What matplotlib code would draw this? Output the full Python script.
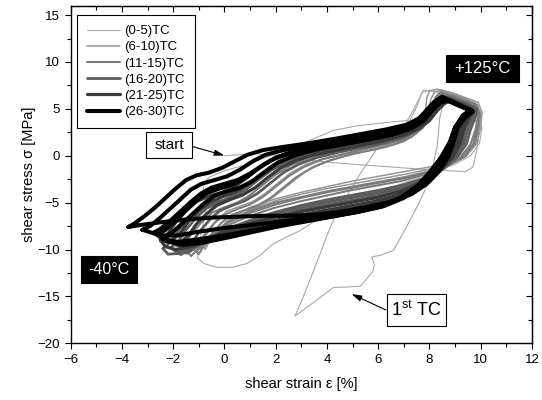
import matplotlib
matplotlib.use('Agg')
import matplotlib.pyplot as plt
from matplotlib.patches import Rectangle
from matplotlib.ticker import MultipleLocator

plt.rcParams['font.family'] = ['Liberation Sans', 'DejaVu Sans']
plt.rcParams['mathtext.fontset'] = 'custom'
plt.rcParams['mathtext.rm'] = 'Liberation Sans'

# strain [%], stress [MPa] pairs for each thermal cycle, -40C <-> +125C

# 1st cycle: from the unloaded start point
first_tc = [(0.0, 0.0), (0.6, 0.1), (1.2, 0.2), (2.0, 0.1), (3.0, -0.4), (4.5, -0.8), (6.0, -1.1),
            (7.5, -1.4), (8.8, -1.6), (9.4, -1.7), (9.7, -1.2), (9.8, 0.0), (9.9, 1.5), (9.9, 3.0),
            (9.7, 4.5), (9.2, 5.5), (8.6, 6.3), (8.4, 4.0), (8.3, 1.0), (8.1, -1.5), (8.0, -2.6),
            (7.6, -5.0), (7.1, -7.6), (6.6, -10.1), (6.1, -10.6), (5.75, -10.8), (5.85, -11.6),
            (5.8, -12.3), (5.5, -13.3), (5.3, -13.9), (4.8, -14.0), (4.25, -14.05), (3.5, -15.6),
            (2.75, -17.1), (3.07, -15.1), (3.4, -12.8), (3.73, -10.5), (4.0, -8.5), (4.31, -6.5),
            (4.8, -4.2), (5.3, -1.9), (5.7, -0.3), (6.07, 1.3), (6.5, 2.3), (7.0, 3.1), (7.4, 5.0),
            (7.76, 7.0), (8.1, 6.9)]

second_tc = [(8.1, 6.9), (8.8, 6.5), (9.5, 5.7), (9.9, 4.6), (10.05, 3.0), (9.95, 1.3), (9.6, 0.0),
             (9.0, -0.9), (8.2, -1.7), (7.3, -2.6), (6.3, -3.6), (5.3, -4.6), (4.3, -5.8), (3.5, -7.0),
             (2.95, -8.0), (2.4, -8.7), (1.9, -9.4), (1.4, -10.6), (0.87, -11.5), (0.3, -11.9),
             (-0.3, -11.9), (-0.8, -11.5), (-1.05, -10.9), (-1.0, -9.5), (-0.85, -7.5), (-0.7, -5.5),
             (-0.75, -4.2), (-0.85, -3.0), (-0.6, -2.3), (0.0, -1.6), (0.8, -1.0), (1.6, -0.2),
             (2.4, 0.6), (3.3, 1.6), (4.25, 2.7), (5.2, 3.2), (6.2, 3.5), (7.24, 3.8), (7.5, 5.2),
             (7.7, 6.7), (8.0, 7.0)]

cycle_6_10_a = [(-1.2, -10.0), (-0.9, -9.2), (-0.6, -8.0), (-0.3, -6.8), (0.1, -5.9), (0.6, -5.4),
                (1.1, -4.9), (1.6, -4.0), (2.1, -2.9), (2.6, -1.8), (3.2, -0.9), (4.0, -0.2), (5.0, 0.4),
                (6.0, 1.0), (6.8, 1.6), (7.4, 2.4), (7.8, 3.5), (7.95, 4.8), (8.05, 6.0), (8.2, 6.8),
                (8.5, 7.0), (9.0, 6.5), (9.8, 5.6), (10.0, 4.6), (9.95, 3.0), (9.8, 1.3), (9.4, -0.1),
                (8.7, -0.9), (7.9, -1.5), (7.0, -2.0), (6.0, -2.5), (5.0, -3.0), (4.0, -3.5), (3.0, -4.1),
                (2.0, -4.8), (1.0, -5.8), (0.2, -6.9), (-0.4, -8.2), (-0.9, -9.5), (-1.1, -10.3), (-1.2, -10.0)]

cycle_6_10_b = [(-0.8, -9.7), (-0.5, -9.0), (-0.2, -7.8), (0.2, -6.7), (0.6, -6.0), (1.1, -5.6),
                (1.6, -5.0), (2.1, -4.0), (2.6, -2.9), (3.1, -1.8), (3.7, -0.9), (4.5, -0.2), (5.4, 0.4),
                (6.3, 0.9), (7.0, 1.5), (7.5, 2.4), (7.75, 3.6), (7.85, 5.0), (7.9, 6.2), (8.0, 6.9),
                (8.3, 7.1), (8.9, 6.7), (9.9, 5.7), (10.05, 4.6), (10.0, 3.0), (9.85, 1.3), (9.45, 0.0),
                (8.8, -0.7), (8.0, -1.2), (7.0, -1.7), (6.0, -2.2), (5.0, -2.7), (4.0, -3.3), (3.0, -3.9),
                (2.0, -4.6), (1.0, -5.5), (0.3, -6.6), (-0.2, -7.9), (-0.6, -9.2), (-0.75, -10.0), (-0.8, -9.7)]

cycle_11_15_a = [(-1.9, -10.3), (-1.6, -9.6), (-1.3, -8.4), (-0.9, -7.1), (-0.5, -6.1), (0.0, -5.5),
                 (0.5, -5.0), (1.0, -4.2), (1.5, -3.1), (2.0, -2.0), (2.6, -1.0), (3.3, -0.2), (4.2, 0.4),
                 (5.1, 0.9), (6.0, 1.4), (6.8, 1.9), (7.4, 2.6), (7.85, 3.6), (8.1, 4.8), (8.3, 5.9),
                 (8.5, 6.5), (9.1, 6.0), (9.8, 5.2), (9.9, 4.3), (9.8, 2.8), (9.6, 1.2), (9.2, -0.2),
                 (8.6, -1.2), (7.8, -2.0), (6.9, -2.7), (5.9, -3.2), (4.9, -3.7), (3.9, -4.3), (2.9, -4.9),
                 (1.9, -5.6), (0.9, -6.5), (0.0, -7.6), (-0.7, -8.8), (-1.3, -9.9), (-1.7, -10.6), (-1.9, -10.3)]

cycle_11_15_b = [(-1.4, -10.4), (-1.1, -9.7), (-0.8, -8.5), (-0.4, -7.2), (0.0, -6.3), (0.5, -5.7),
                 (1.0, -5.2), (1.5, -4.4), (2.0, -3.3), (2.5, -2.2), (3.1, -1.2), (3.8, -0.4), (4.7, 0.2),
                 (5.6, 0.8), (6.4, 1.3), (7.1, 1.9), (7.6, 2.8), (8.0, 3.9), (8.2, 5.1), (8.3, 6.1),
                 (8.5, 6.7), (9.1, 6.2), (9.85, 5.3), (9.95, 4.3), (9.85, 2.8), (9.7, 1.2), (9.3, -0.2),
                 (8.7, -1.1), (7.9, -1.8), (7.0, -2.4), (6.0, -2.9), (5.0, -3.4), (4.0, -3.9), (3.0, -4.5),
                 (2.0, -5.2), (1.0, -6.1), (0.1, -7.2), (-0.5, -8.5), (-1.0, -9.8), (-1.3, -10.7), (-1.4, -10.4)]

cycle_11_15_c = [(-1.1, -10.2), (-0.8, -9.5), (-0.5, -8.3), (-0.1, -7.1), (0.3, -6.3), (0.8, -5.8),
                 (1.3, -5.3), (1.8, -4.5), (2.3, -3.4), (2.8, -2.3), (3.4, -1.3), (4.1, -0.5), (5.0, 0.2),
                 (5.9, 0.7), (6.7, 1.3), (7.3, 2.0), (7.75, 3.0), (8.0, 4.2), (8.15, 5.4), (8.25, 6.3),
                 (8.45, 6.8), (9.05, 6.3), (9.85, 5.4), (9.95, 4.4), (9.9, 2.9), (9.75, 1.3), (9.35, -0.1),
                 (8.75, -1.0), (7.95, -1.7), (7.0, -2.3), (6.0, -2.8), (5.0, -3.3), (4.0, -3.8), (3.0, -4.4),
                 (2.0, -5.0), (1.0, -5.9), (0.2, -7.0), (-0.4, -8.3), (-0.8, -9.6), (-1.0, -10.5), (-1.1, -10.2)]

cycle_16_20_a = [(-2.1, -9.8), (-1.8, -9.1), (-1.5, -7.9), (-1.1, -6.6), (-0.7, -5.6), (-0.2, -5.0),
                 (0.3, -4.5), (0.8, -3.7), (1.3, -2.6), (1.8, -1.6), (2.4, -0.7), (3.1, 0.0), (4.0, 0.6),
                 (4.9, 1.1), (5.8, 1.6), (6.6, 2.1), (7.3, 2.7), (7.8, 3.6), (8.2, 4.7), (8.5, 5.7),
                 (8.8, 6.2), (9.3, 5.6), (9.8, 5.0), (9.7, 4.2), (9.5, 2.9), (9.35, 1.4), (9.05, -0.1),
                 (8.5, -1.4), (7.8, -2.5), (6.9, -3.4), (5.9, -4.0), (4.9, -4.5), (3.9, -5.0), (2.9, -5.6),
                 (1.9, -6.3), (0.9, -7.1), (-0.1, -8.1), (-0.9, -9.2), (-1.5, -10.0), (-1.9, -10.2), (-2.1, -9.8)]

cycle_16_20_b = [(-1.6, -10.1), (-1.3, -9.4), (-1.0, -8.2), (-0.6, -6.9), (-0.2, -5.9), (0.3, -5.3),
                 (0.8, -4.8), (1.3, -4.0), (1.8, -2.9), (2.3, -1.8), (2.9, -0.9), (3.6, -0.2), (4.5, 0.4),
                 (5.4, 0.9), (6.3, 1.4), (7.0, 2.0), (7.5, 2.7), (8.0, 3.7), (8.3, 4.8), (8.6, 5.7),
                 (8.9, 6.1), (9.4, 5.6), (9.85, 5.0), (9.8, 4.2), (9.6, 2.8), (9.45, 1.3), (9.1, -0.1),
                 (8.6, -1.3), (7.9, -2.3), (7.0, -3.1), (6.0, -3.7), (5.0, -4.2), (4.0, -4.7), (3.0, -5.3),
                 (2.0, -6.0), (1.0, -6.9), (0.0, -7.9), (-0.7, -9.0), (-1.2, -9.9), (-1.5, -10.4), (-1.6, -10.1)]

cycle_16_20_c = [(-2.4, -9.9), (-2.1, -9.2), (-1.8, -8.0), (-1.4, -6.7), (-1.0, -5.7), (-0.5, -5.1),
                 (0.0, -4.7), (0.5, -4.0), (1.0, -2.9), (1.6, -1.8), (2.2, -0.9), (2.9, -0.2), (3.8, 0.4),
                 (4.7, 0.9), (5.6, 1.4), (6.5, 1.9), (7.2, 2.5), (7.8, 3.4), (8.1, 4.6), (8.4, 5.6),
                 (8.7, 6.3), (9.2, 5.8), (9.75, 5.1), (9.65, 4.2), (9.45, 2.9), (9.3, 1.4), (9.0, -0.1),
                 (8.45, -1.5), (7.75, -2.7), (6.85, -3.6), (5.85, -4.3), (4.85, -4.8), (3.85, -5.3),
                 (2.85, -5.9), (1.85, -6.6), (0.85, -7.4), (-0.15, -8.4), (-1.0, -9.5), (-1.7, -10.4),
                 (-2.2, -10.5), (-2.4, -9.9)]

cycle_21_25_a = [(-2.0, -8.9), (-1.7, -8.2), (-1.4, -7.0), (-1.0, -5.9), (-0.6, -5.0), (-0.1, -4.4),
                 (0.4, -3.9), (0.9, -3.1), (1.4, -2.0), (1.9, -1.0), (2.5, -0.3), (3.2, 0.3), (4.1, 0.8),
                 (5.0, 1.3), (5.9, 1.8), (6.7, 2.3), (7.4, 2.9), (7.9, 3.8), (8.2, 4.8), (8.5, 5.7),
                 (8.8, 6.0), (9.3, 5.4), (9.7, 4.9), (9.5, 4.2), (9.25, 3.0), (9.1, 1.5), (8.8, -0.1),
                 (8.3, -1.7), (7.6, -3.1), (6.8, -4.2), (5.8, -4.9), (4.8, -5.4), (3.8, -5.9), (2.8, -6.4),
                 (1.8, -7.0), (0.8, -7.7), (-0.2, -8.5), (-1.0, -9.3), (-1.6, -9.7), (-1.9, -9.5), (-2.0, -8.9)]

cycle_21_25_b = [(-1.7, -9.2), (-1.4, -8.5), (-1.1, -7.3), (-0.7, -6.2), (-0.3, -5.3), (0.2, -4.7),
                 (0.7, -4.2), (1.2, -3.4), (1.7, -2.3), (2.2, -1.3), (2.8, -0.5), (3.5, 0.1), (4.4, 0.6),
                 (5.3, 1.1), (6.2, 1.6), (7.0, 2.2), (7.6, 2.9), (8.0, 3.8), (8.3, 4.8), (8.6, 5.6),
                 (8.9, 5.9), (9.4, 5.3), (9.7, 4.8), (9.55, 4.1), (9.35, 2.9), (9.2, 1.4), (8.9, -0.2),
                 (8.4, -1.6), (7.7, -2.8), (6.9, -3.8), (5.9, -4.5), (4.9, -5.0), (3.9, -5.5), (2.9, -6.0),
                 (1.9, -6.6), (0.9, -7.3), (-0.1, -8.2), (-0.8, -9.1), (-1.3, -9.7), (-1.6, -9.7), (-1.7, -9.2)]

cycle_21_25_c = [(-2.5, -9.0), (-2.2, -8.3), (-1.9, -7.1), (-1.5, -5.9), (-1.1, -4.9), (-0.6, -4.3),
                 (-0.1, -3.9), (0.4, -3.3), (0.9, -2.3), (1.4, -1.2), (2.0, -0.3), (2.7, 0.3), (3.6, 0.8),
                 (4.6, 1.3), (5.6, 1.8), (6.5, 2.3), (7.3, 2.9), (7.8, 3.8), (8.1, 4.8), (8.4, 5.7),
                 (8.7, 6.0), (9.2, 5.4), (9.65, 4.9), (9.45, 4.2), (9.2, 3.0), (9.05, 1.5), (8.75, -0.1),
                 (8.25, -1.7), (7.55, -3.2), (6.7, -4.4), (5.7, -5.2), (4.7, -5.7), (3.7, -6.2), (2.7, -6.7),
                 (1.7, -7.3), (0.7, -8.0), (-0.3, -8.8), (-1.2, -9.6), (-1.9, -10.0), (-2.3, -9.7), (-2.5, -9.0)]

cycle_26_30_a = [(-2.3, -8.6), (-2.0, -8.1), (-1.6, -7.1), (-1.2, -6.1), (-0.8, -5.1), (-0.4, -4.3),
                 (0.1, -3.8), (0.6, -3.4), (1.1, -2.7), (1.6, -1.7), (2.1, -0.7), (2.8, 0.1), (3.6, 0.7),
                 (4.6, 1.2), (5.6, 1.7), (6.5, 2.2), (7.3, 2.9), (7.8, 3.8), (8.1, 4.8), (8.4, 5.6),
                 (8.7, 5.9), (9.2, 5.3), (9.6, 4.9), (9.3, 4.3), (9.0, 3.0), (8.8, 1.4), (8.45, -0.2),
                 (8.0, -1.8), (7.5, -3.3), (6.8, -4.6), (6.0, -5.5), (5.0, -6.1), (4.0, -6.6), (3.0, -7.1),
                 (2.0, -7.6), (1.0, -8.2), (0.0, -8.8), (-0.9, -9.3), (-1.6, -9.5), (-2.1, -9.2), (-2.3, -8.6)]

cycle_26_30_b = [(-2.55, -8.4), (-2.3, -7.9), (-1.9, -6.9), (-1.5, -5.8), (-1.1, -4.8), (-0.7, -4.0),
                 (-0.2, -3.5), (0.3, -3.1), (0.8, -2.4), (1.3, -1.4), (1.8, -0.5), (2.4, 0.2), (3.2, 0.8),
                 (4.2, 1.3), (5.2, 1.8), (6.2, 2.3), (7.1, 2.9), (7.7, 3.8), (8.05, 4.8), (8.35, 5.7),
                 (8.65, 6.0), (9.15, 5.4), (9.6, 4.9), (9.3, 4.2), (9.0, 3.0), (8.8, 1.4), (8.5, -0.1),
                 (8.05, -1.7), (7.55, -3.2), (6.9, -4.5), (6.1, -5.4), (5.1, -6.0), (4.1, -6.5), (3.0, -7.0),
                 (2.0, -7.5), (1.0, -8.1), (0.0, -8.7), (-0.9, -9.1), (-1.7, -9.4), (-2.3, -9.1), (-2.55, -8.4)]

cycle_26_30_c = [(-2.75, -8.2), (-2.5, -7.8), (-2.1, -6.9), (-1.7, -5.9), (-1.3, -4.9), (-0.9, -4.0),
                 (-0.5, -3.4), (0.0, -3.0), (0.5, -2.6), (1.0, -1.9), (1.5, -1.0), (2.0, -0.2), (2.7, 0.4),
                 (3.5, 0.9), (4.5, 1.4), (5.5, 1.9), (6.4, 2.4), (7.2, 3.0), (7.7, 3.8), (8.0, 4.8),
                 (8.3, 5.7), (8.6, 6.0), (9.1, 5.4), (9.6, 4.9), (9.3, 4.2), (9.0, 3.0), (8.8, 1.5),
                 (8.5, 0.0), (8.1, -1.6), (7.6, -3.2), (7.0, -4.5), (6.2, -5.4), (5.2, -6.0), (4.1, -6.5),
                 (3.0, -7.0), (2.0, -7.5), (1.0, -8.0), (0.0, -8.5), (-1.0, -8.9), (-1.8, -9.2), (-2.4, -8.9),
                 (-2.75, -8.2)]

cycle_26_30_d = [(-3.2, -7.9), (-2.9, -7.5), (-2.5, -6.6), (-2.1, -5.6), (-1.7, -4.6), (-1.3, -3.6),
                 (-0.9, -3.0), (-0.4, -2.6), (0.1, -2.2), (0.6, -1.5), (1.1, -0.6), (1.6, 0.1), (2.3, 0.6),
                 (3.2, 1.0), (4.3, 1.5), (5.3, 2.0), (6.3, 2.5), (7.2, 3.1), (7.7, 3.9), (8.0, 4.9),
                 (8.3, 5.8), (8.6, 6.1), (9.1, 5.4), (9.6, 4.8), (9.3, 4.1), (9.0, 3.0), (8.85, 1.5),
                 (8.6, 0.0), (8.2, -1.6), (7.7, -3.1), (7.1, -4.3), (6.3, -5.1), (5.3, -5.7), (4.2, -6.2),
                 (3.1, -6.7), (2.0, -7.1), (1.0, -7.4), (0.0, -7.7), (-1.0, -8.1), (-1.8, -8.5), (-2.5, -8.5),
                 (-3.2, -7.9)]

cycle_26_30_e = [(-3.75, -7.6), (-3.5, -7.2), (-3.1, -6.4), (-2.7, -5.5), (-2.3, -4.5), (-1.9, -3.5),
                 (-1.5, -2.6), (-1.1, -2.1), (-0.6, -1.8), (-0.1, -1.3), (0.4, -0.6), (0.9, 0.1), (1.5, 0.6),
                 (2.2, 0.9), (3.2, 1.3), (4.3, 1.8), (5.3, 2.3), (6.3, 2.8), (7.1, 3.3), (7.6, 4.0),
                 (7.9, 4.9), (8.2, 5.8), (8.5, 6.3), (9.1, 5.5), (9.7, 4.7), (9.4, 4.1), (9.1, 3.0),
                 (8.95, 1.5), (8.75, 0.0), (8.4, -1.6), (7.9, -3.0), (7.3, -4.1), (6.5, -4.9), (5.5, -5.5),
                 (4.5, -6.0), (3.5, -6.3), (2.5, -6.4), (1.5, -6.4), (0.5, -6.5), (-0.5, -6.6), (-1.5, -6.8),
                 (-2.5, -7.1), (-3.3, -7.4), (-3.75, -7.6)]

labels = ['(0-5)TC', '(6-10)TC', '(11-15)TC', '(16-20)TC', '(21-25)TC', '(26-30)TC']
colors = ['#a8a8a8', '#969696', '#7c7c7c', '#5c5c5c', '#3a3a3a', '#000000']
widths = [0.8, 1.1, 1.5, 2.0, 2.3, 2.9]
loops = [[first_tc, second_tc],
         [cycle_6_10_a, cycle_6_10_b],
         [cycle_11_15_a, cycle_11_15_b, cycle_11_15_c],
         [cycle_16_20_a, cycle_16_20_b, cycle_16_20_c],
         [cycle_21_25_a, cycle_21_25_b, cycle_21_25_c],
         [cycle_26_30_a, cycle_26_30_b, cycle_26_30_c, cycle_26_30_d, cycle_26_30_e]]


def label_box(ax, x0, y0, x1, y1, text, dark, size):
    face = 'black' if dark else 'white'
    ax.add_patch(Rectangle((x0, y0), x1 - x0, y1 - y0, facecolor=face,
                           edgecolor='black', lw=0.8, zorder=5))
    ax.text((x0 + x1) / 2, (y0 + y1) / 2, text, ha='center', va='center',
            fontsize=size, color='white' if dark else 'black', zorder=6)


fig = plt.figure(figsize=(5.42, 4.0), dpi=100)
ax = fig.add_axes([0.1304, 0.1418, 0.8511, 0.844])

for label, color, lw, group in zip(labels, colors, widths, loops):
    for i, loop in enumerate(group):
        xs = [p[0] for p in loop]
        ys = [p[1] for p in loop]
        ax.plot(xs, ys, color=color, lw=lw, solid_joinstyle='round',
                solid_capstyle='round', label=label if i == 0 else None)

ax.set_xlim(-6, 12)
ax.set_ylim(-20, 16)
ax.xaxis.set_major_locator(MultipleLocator(2))
ax.xaxis.set_minor_locator(MultipleLocator(1))
ax.yaxis.set_major_locator(MultipleLocator(5))
ax.yaxis.set_minor_locator(MultipleLocator(2.5))
ax.tick_params(which='major', direction='out', length=4.3, width=0.8, labelsize=9.5)
ax.tick_params(which='minor', direction='out', length=2.8, width=0.8)
for sp in ax.spines.values():
    sp.set_linewidth(1.0)

# mirrored ticks on top and right point into the plot
top = ax.secondary_xaxis('top')
top.xaxis.set_major_locator(MultipleLocator(2))
top.xaxis.set_minor_locator(MultipleLocator(1))
top.tick_params(which='both', direction='in', labeltop=False, width=0.8)
top.tick_params(which='major', length=4.3)
top.tick_params(which='minor', length=2.8)
right = ax.secondary_yaxis('right')
right.yaxis.set_major_locator(MultipleLocator(5))
right.yaxis.set_minor_locator(MultipleLocator(2.5))
right.tick_params(which='both', direction='in', labelright=False, width=0.8)
right.tick_params(which='major', length=4.3)
right.tick_params(which='minor', length=2.8)

ax.set_xlabel('shear strain ε [%]', fontsize=10.5, labelpad=8)
ax.set_ylabel('shear stress σ [MPa]', fontsize=10.5, labelpad=1)

leg = ax.legend(loc='upper left', bbox_to_anchor=(0.0143, 0.972), borderaxespad=0,
                fancybox=False, edgecolor='black', framealpha=1, fontsize=9.5,
                handlelength=2.5, handletextpad=0.3, labelspacing=0.3, borderpad=0.75)
leg.get_frame().set_linewidth(0.8)

label_box(ax, -3.06, -0.28, -1.26, 2.57, 'start', False, 11)
label_box(ax, -5.61, -13.57, -3.42, -10.65, '-40°C', True, 11.5)
label_box(ax, 8.64, 7.82, 11.5, 10.79, '+125°C', True, 12)
label_box(ax, 6.35, -18.15, 8.63, -14.75, r'1$^{\mathrm{st}}$ TC', False, 13)

arrow = dict(arrowstyle='-|>,head_length=0.6,head_width=0.18', color='black', lw=0.8,
             shrinkA=0, shrinkB=0)
ax.annotate('', xy=(0.0, 0.02), xytext=(-1.22, 0.96), arrowprops=arrow, zorder=7)
ax.annotate('', xy=(4.96, -14.75), xytext=(6.3, -16.45), arrowprops=arrow, zorder=7)

fig.savefig('out.png', dpi=100)
